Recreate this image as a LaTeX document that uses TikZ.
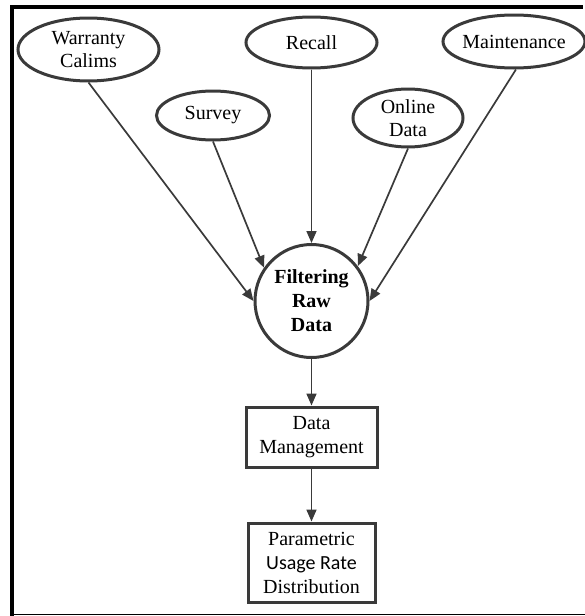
\documentclass[tikz,border=0pt]{standalone}
\usepackage{fontspec}
\setmainfont{Liberation Serif}
\newfontfamily\calib{Carlito}
\usetikzlibrary{shapes.geometric,arrows.meta}
\definecolor{ink}{HTML}{3A3A3A}
\begin{document}
\begin{tikzpicture}[x=1pt,y=1pt,
  every node/.style={font=\fontsize{20}{23.5}\selectfont},
  src/.style={ellipse,draw=ink,line width=3pt,inner sep=0pt},
  txt/.style={align=center,text=black},
  boxn/.style={rectangle,draw=ink,line width=3pt,inner sep=0pt,align=center,font=\fontsize{20}{24}\selectfont},
  conn/.style={draw=ink,line width=1.7pt,-{Triangle[length=12pt,width=10pt]}}]
\useasboundingbox (0,0) rectangle (585,-616);
% frame
\draw[line width=4pt] (12,-616) -- (12,-7) -- (583,-7);
\draw[line width=1.3pt] (12,-614.8) -- (585,-614.8);
% sources
\node[src,minimum width=141pt,minimum height=63pt,label={[txt]center:Warranty\\Calims}] (w) at (88.5,-49.5) {};
\node[src,minimum width=113pt,minimum height=49pt,label={[txt]center:Survey}] (s) at (213,-115.5) {};
\node[src,minimum width=131pt,minimum height=51pt,label={[txt]center:Recall}] (r) at (311.5,-42.5) {};
\node[src,minimum width=110pt,minimum height=58pt,label={[txt]center:Online\\Data}] (o) at (408,-118) {};
\node[src,minimum width=142pt,minimum height=53pt,label={[txt]center:Maintenance}] (m) at (514,-41.5) {};
% filter
\node[circle,draw=ink,line width=3pt,minimum size=113pt,inner sep=0pt,align=center,font=\fontsize{20}{24}\selectfont\bfseries] (f) at (311.5,-301) {Filtering\\Raw\\Data};
% boxes
\node[boxn,minimum width=131pt,minimum height=60pt] (d) at (311.5,-437) {Data\\Management};
\node[boxn,minimum width=127pt,minimum height=79pt] (p) at (311.5,-562.5) {Parametric\\{\calib Usage Rate}\\Distribution};
% connectors
\draw[conn] (w.south) -- (f.west);
\draw[conn] (s.south) -- (f.145);
\draw[conn] (r.south) -- (f.north);
\draw[conn] (o.south) -- (f.37);
\draw[conn] (m.-86) -- (f.east);
\draw[conn] (f.south) -- (d.north);
\draw[conn] (d.south) -- (p.north);
\end{tikzpicture}
\end{document}
